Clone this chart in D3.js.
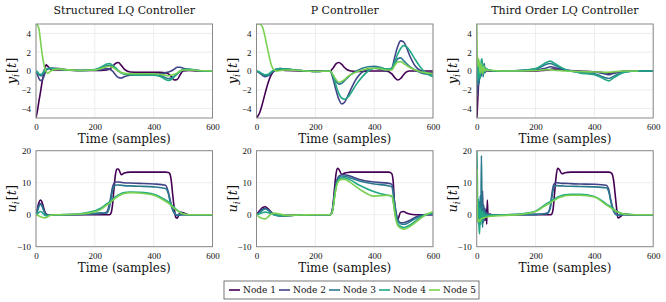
<!DOCTYPE html>
<html>
<head>
<meta charset="utf-8">
<script src="https://cdn.jsdelivr.net/npm/d3@7"></script>
<style>
  body { margin: 0; background: #fff; }
  text { fill: #111; }
</style>
</head>
<body>
<svg width="666" height="302"></svg>
<script>
var nodeNames = ["Node 1", "Node 2", "Node 3", "Node 4", "Node 5"];
var nodeColors = ["#440154", "#414487", "#2a788e", "#22a884", "#7ad151"];
var titles = ["Structured LQ Controller", "P Controller", "Third Order LQ Controller"];
var xTicks = [0, 200, 400, 600];
var yTicksOut = [-4, -2, 0, 2, 4];
var yTicksIn = [-10, 0, 10, 20];

// Structured LQ, output y
var tA = [0,5,10,15,20,25,30,35,40,50,60,80,100,150,200,220,240,250,260,270,280,290,300,320,350,400,420,440,450,460,470,480,490,500,520,550,600];
var yStructured = [
  [-5,-4.2,-3.2,-2.3,-1.3,-0.5,0.3,0.65,0.5,0.2,0.1,0.1,0.1,0.05,0.05,0.05,0.1,0.2,0.45,0.8,0.9,0.6,0.2,-0.1,-0.15,-0.15,-0.15,-0.2,-0.3,-0.6,-0.95,-0.9,-0.4,0,0.05,0,0],
  [0,-0.4,-0.8,-1.0,-1.0,-0.7,-0.3,0.1,0.2,0.3,0.3,0.25,0.15,0.05,0.1,0.15,0.25,0.2,0,-0.4,-0.7,-0.75,-0.6,-0.45,-0.4,-0.35,-0.3,-0.2,-0.1,0,0.2,0.4,0.4,0.3,0.15,0.05,0],
  [0,-0.2,-0.4,-0.5,-0.45,-0.3,0,0.2,0.25,0.3,0.25,0.2,0.1,0.05,0.1,0.3,0.55,0.6,0.5,0.3,0,-0.2,-0.3,-0.35,-0.35,-0.35,-0.45,-0.7,-0.8,-0.75,-0.55,-0.3,-0.05,0.1,0.15,0.05,0],
  [0,-0.1,-0.3,-0.35,-0.3,-0.1,0.1,0.2,0.25,0.3,0.25,0.2,0.1,0.05,0.15,0.4,0.75,0.8,0.6,0.35,0.05,-0.2,-0.35,-0.4,-0.45,-0.45,-0.55,-0.9,-1.0,-0.9,-0.6,-0.3,0,0.15,0.2,0.05,0],
  [5,4.9,4.5,3.3,2.0,1.0,0.3,-0.1,-0.25,0,0.15,0.2,0.15,0.05,0.1,0.25,0.45,0.5,0.4,0.2,0,-0.15,-0.25,-0.3,-0.3,-0.3,-0.35,-0.45,-0.5,-0.45,-0.35,-0.2,0,0.1,0.1,0.05,0]
];

// P controller, output y
var tB = [0,10,20,30,40,50,60,70,80,100,150,200,250,260,270,280,290,300,310,320,340,360,380,400,420,440,460,470,480,490,500,510,520,540,560,580,600];
var yP = [
  [-5,-4.5,-3.5,-2.3,-1.2,-0.4,0,0.1,0.1,0.05,0,0,0,0.3,0.75,0.9,0.7,0.35,0.1,0,-0.05,-0.05,0,0,0,0,-0.3,-0.7,-0.95,-0.8,-0.4,-0.1,0,0,0,0,0],
  [0,-0.2,-0.45,-0.6,-0.5,-0.2,0.1,0.2,0.25,0.2,0.05,-0.05,0,-0.8,-2.0,-3.0,-3.5,-3.3,-2.7,-2.0,-0.8,-0.1,0.2,0.3,0.2,0,0.3,1.5,2.6,3.2,3.1,2.5,1.7,0.5,0,-0.15,-0.2],
  [0,-0.15,-0.35,-0.5,-0.45,-0.2,0.1,0.2,0.25,0.2,0.05,-0.05,0,-0.5,-1.1,-1.4,-1.3,-1.0,-0.7,-0.4,0,0.3,0.45,0.5,0.4,0.2,0.2,0.8,1.3,1.4,1.1,0.8,0.5,0.1,-0.2,-0.35,-0.4],
  [0,-0.1,-0.3,-0.4,-0.35,-0.1,0.1,0.2,0.25,0.2,0.05,-0.05,0,-0.5,-1.5,-2.4,-2.9,-3.0,-2.8,-2.4,-1.4,-0.6,0,0.3,0.35,0.2,0.3,1.0,1.8,2.4,2.7,2.6,2.2,1.2,0.3,-0.3,-0.6],
  [5,5,4.7,3.5,2.0,0.7,0.1,0,0.05,0.1,0.05,-0.05,0,-0.4,-0.9,-1.2,-1.1,-0.9,-0.6,-0.4,-0.1,0.1,0.25,0.3,0.25,0.1,0.1,0.6,0.95,1.0,0.8,0.6,0.4,0.1,-0.1,-0.2,-0.3]
];

// Third order LQ, output y
var tC = [0,1,2,3,4,5,6,8,10,12,14,16,18,20,22,24,26,28,30,35,40,45,50,60,80,100,150,200,220,240,250,260,280,300,350,400,420,440,450,460,480,500,550,600];
var yThird = [
  [-5,-4.8,-4.2,-3.5,-2.8,-2.2,-1.6,-1.0,-0.6,-0.3,-0.1,0.1,0,-0.2,0.1,0.2,0,-0.1,0.1,0.05,0,0,0,0,0,0,0,0,0.05,0.1,0.15,0.2,0.2,0.1,0,-0.1,-0.15,-0.2,-0.25,-0.2,-0.1,-0.05,0,0],
  [0,-1.5,-2.5,-2.2,-1.8,-1.5,-1.2,-0.8,-0.5,-0.3,-0.6,-0.2,0.3,-0.3,0.2,-0.2,0.1,0.2,-0.1,0.1,0,0.05,0,0,0,0,0.05,0.1,0.2,0.35,0.45,0.4,0.25,0.1,-0.05,-0.1,-0.2,-0.35,-0.4,-0.3,-0.15,0,0,0],
  [0,-0.5,-1.0,-1.2,-1.5,-1.2,-0.5,-1.3,-0.5,0.3,-0.5,0.5,1.0,0.2,-0.6,0.4,0.8,-0.2,0.3,0.2,0.1,0.05,0.05,0,0,0,0.05,0.2,0.45,0.75,0.8,0.7,0.4,0.15,-0.15,-0.3,-0.5,-0.75,-0.8,-0.65,-0.35,-0.1,0,0],
  [0,0.8,1.3,0.5,-0.8,-1.0,0.5,0.8,-0.3,-0.8,0.3,1.2,1.3,0.4,-0.3,0.6,0.4,-0.1,0.3,0.2,0.1,0.1,0.05,0,0,0,0.05,0.25,0.6,0.95,1.05,0.9,0.5,0.2,-0.2,-0.4,-0.65,-0.95,-1.05,-0.85,-0.45,-0.15,0,0],
  [5,3,1.5,1.2,0.8,0.5,1.3,1.0,0.3,-0.2,0.2,0.8,0.2,-0.3,0.3,0.5,0.1,0,0.2,0.1,0.05,0.1,0.05,0.05,0,0,0,0.05,0.1,0.15,0.15,0.1,0.05,0,-0.05,-0.1,-0.1,-0.15,-0.15,-0.1,-0.05,0,0]
];

// Structured LQ, input u
var tD = [0,5,10,15,20,25,30,35,40,50,60,80,100,150,200,220,240,250,255,260,265,270,275,280,290,300,320,350,400,440,450,455,460,465,470,475,480,490,500,520,540,560,600];
var uStructured = [
  [0,2.0,3.8,4.6,4.0,2.5,1.0,0.2,0,0,0,0,0,0,0,0,0,0,0.5,3,8,12.5,14.3,14.3,12.5,13.0,13.3,13.3,13.3,13.3,13.2,12.8,10.5,6,2,-0.8,-1.1,0.8,0.6,0,0,0,0],
  [0,1.5,3.0,3.5,3.0,1.8,0.7,0.1,-0.1,0,0,0,0,0.05,0.2,0.3,0.8,3.5,6,8.5,9.8,10.2,10.2,10.2,10.1,10.0,9.9,9.8,9.6,9.2,7,5,3,1.5,0.5,0,-0.3,-0.1,0,0,0,0,0],
  [0,1.2,2.6,3.2,2.8,1.6,0.5,0,-0.2,0,0,0,0,0.1,0.4,0.6,0.5,2.5,5,7.5,8.8,9.2,9.3,9.3,9.2,9.1,9.0,8.9,8.7,8.2,6.5,4.5,2.8,1.5,0.6,0.1,-0.1,0,0,0,0,0,0],
  [0,0.3,0.7,1.0,0.8,0.3,-0.2,-0.4,-0.3,-0.1,0,0,0.05,0.3,1.2,2.0,3.4,4.0,4.4,4.8,5.2,5.6,5.9,6.2,6.6,6.9,7.1,7.0,6.4,4.6,4.0,3.6,3.2,2.7,2.2,1.8,1.4,0.7,0.3,0,0,0,0],
  [0,-0.2,-0.4,-0.6,-0.8,-0.9,-1.0,-0.9,-0.6,-0.2,0,0,0.05,0.2,0.9,1.6,3.0,3.6,4.0,4.4,4.8,5.2,5.5,5.8,6.3,6.6,6.9,6.8,6.1,4.2,3.6,3.2,2.8,2.4,2.0,1.6,1.3,0.7,0.3,0,0,0,0]
];

// P controller, input u
var tE = [0,10,20,30,40,50,60,80,100,150,200,250,255,260,265,270,275,280,290,300,310,320,350,400,450,460,465,470,475,480,490,500,510,520,540,560,580,600];
var uP = [
  [0,1.2,2.2,2.5,1.8,0.8,0.1,-0.3,-0.3,-0.1,0,0,0.5,3,8,12.5,14.5,14.2,12.6,13.0,13.2,13.3,13.3,13.3,13.3,12.8,10,2,-1.0,-1.5,0.8,1.0,0.5,0.2,0,0,0,0],
  [0,0.8,1.8,2.0,1.5,0.6,0,-0.3,-0.3,-0.1,0,0,0.5,2.5,6.5,9.5,11.2,12.0,12.5,12.5,12.3,12.0,11.0,10.2,9.8,9.5,7,3.5,0.5,-1.5,-2.5,-2.5,-2.2,-1.8,-0.8,-0.2,0,0],
  [0,0.6,1.4,1.8,1.4,0.6,0,-0.3,-0.3,-0.1,0,0,0.4,2.2,6,9,10.8,11.6,12.1,12.0,11.8,11.5,10.5,9.6,9.0,8.7,6.5,3,0,-1.8,-2.8,-3.0,-2.8,-2.3,-1.2,-0.3,0.1,0.2],
  [0,0.3,0.6,0.8,0.6,0.3,0,-0.3,-0.3,-0.1,0,0,0.3,2,5.5,8.5,10.2,11.0,11.5,11.5,11.2,10.8,9.2,7.2,6.0,5.8,4,1,-1.5,-2.8,-3.7,-4.0,-3.8,-3.3,-2.0,-0.8,0.1,0.5],
  [0,-0.8,-1.2,-1.3,-0.6,0.2,0.5,0.2,-0.2,-0.1,0,0,0.3,1.8,5,8,9.8,10.6,11.0,11.0,10.6,10.0,8.0,5.8,6.1,5.9,4,0.5,-2,-3.3,-4.2,-4.5,-4.3,-3.8,-2.5,-1.0,0.2,0.9]
];

// Third order LQ, input u
var tF = [0,1,2,4,6,8,10,12,14,16,18,20,22,24,26,28,30,32,34,36,38,40,45,50,60,80,100,150,200,220,240,250,255,260,265,270,275,280,290,300,320,350,400,440,450,455,460,465,470,475,480,490,500,520,540,560,600];
var uThird = [
  [0,0,0,0,0.2,0.5,0.8,0.5,-0.3,-0.8,-0.5,0.5,1.2,0.5,-0.8,-1.8,-1.0,1.5,-3.0,4.6,0.5,-0.5,0.2,0,0,0,0,0,0,0,0,0,0.2,2,7,12,14.5,14.2,12.8,13.1,13.3,13.3,13.3,13.3,13.3,13.2,12.8,11,7,2.5,-1.0,-0.5,0.2,0,0,0,0],
  [0,-1,-2,1,-1.5,2,-2,3,-1,4,-1,7.5,-2.5,3,-1.5,2,-0.5,0.8,-0.5,0.5,0,-0.3,0.2,0,0,0,0,0.05,0.1,0.2,0.5,2.5,6,8.8,9.8,10,10,9.9,9.8,9.8,9.7,9.6,9.5,9.2,7.5,5,3,1.5,0.5,0,-0.2,0,0,0,0,0,0],
  [0,3,-2,2,-3,4,-3,6,-2,18.5,2,-4,3,-2,1.5,-1,0.5,-0.3,0.2,0,0,0,0,0,0,0,0,0,0.1,0.2,0.4,2,5,7.8,8.9,9.1,9.1,9.0,9.0,8.9,8.9,8.8,8.7,8.4,6.8,4.5,2.5,1.2,0.4,0,-0.1,0,0,0,0,0,0],
  [0,20,12,-2,5,-4,-6,2,-3,1,-2,1,-1,0.5,-0.5,0,-0.3,-0.2,-0.2,-0.2,-0.2,-0.2,-0.2,-0.2,-0.2,-0.1,0,0.3,1.1,2.3,3.6,4.1,4.4,4.7,5.0,5.2,5.5,5.7,6.0,6.2,6.4,6.4,5.7,3.4,2.8,2.5,2.1,1.8,1.4,1.1,0.9,0.5,0.2,0.1,0,0,0],
  [0,14,-1,-2,-1.5,-2,-2.2,-1.8,-1.5,-1.3,-1.2,-1.1,-1.0,-1.0,-0.9,-0.9,-0.8,-0.8,-0.7,-0.7,-0.6,-0.6,-0.5,-0.5,-0.4,-0.3,-0.2,0.1,1.0,2.0,3.2,3.7,4.0,4.3,4.6,4.8,5.1,5.3,5.6,5.9,6.1,6.1,5.5,3.1,2.5,2.2,1.9,1.6,1.3,1.0,0.8,0.4,0.2,0.05,0,0,0]
];

var svg = d3.select("svg");
var colX = [36, 256.5, 476.7];
var panelW = 176.5;
var rows = [
  { top: 24, h: 94, domain: [-5, 5], ticks: yTicksOut, label: "y" },
  { top: 150.7, h: 96, domain: [-10, 20], ticks: yTicksIn, label: "u" }
];

var panels = [
  { col: 0, row: 0, t: tA, s: yStructured },
  { col: 1, row: 0, t: tB, s: yP },
  { col: 2, row: 0, t: tC, s: yThird },
  { col: 0, row: 1, t: tD, s: uStructured },
  { col: 1, row: 1, t: tE, s: uP },
  { col: 2, row: 1, t: tF, s: uThird }
];

var tickFont = "'Liberation Serif', serif";
var textFont = "'DejaVu Serif', serif";

panels.forEach(function(p, k) {
  var r = rows[p.row];
  var x0 = colX[p.col];
  var x = d3.scaleLinear().domain([0, 600]).range([x0, x0 + panelW]);
  var y = d3.scaleLinear().domain(r.domain).range([r.top + r.h, r.top]);
  var g = svg.append("g");

  // grid
  g.selectAll(".gx").data(xTicks).enter().append("line")
    .attr("x1", function(d) { return x(d); }).attr("x2", function(d) { return x(d); })
    .attr("y1", r.top).attr("y2", r.top + r.h)
    .attr("stroke", "#e8e8e8").attr("stroke-width", 0.8);
  g.selectAll(".gy").data(r.ticks).enter().append("line")
    .attr("x1", x0).attr("x2", x0 + panelW)
    .attr("y1", function(d) { return y(d); }).attr("y2", function(d) { return y(d); })
    .attr("stroke", "#e8e8e8").attr("stroke-width", 0.8);

  // lines
  var clipId = "clip" + k;
  svg.append("clipPath").attr("id", clipId).append("rect")
    .attr("x", x0).attr("y", r.top).attr("width", panelW).attr("height", r.h);
  var line = d3.line()
    .x(function(d) { return x(d[0]); })
    .y(function(d) { return y(d[1]); })
    .curve(d3.curveMonotoneX);
  p.s.forEach(function(vals, i) {
    g.append("path")
      .attr("clip-path", "url(#" + clipId + ")")
      .attr("d", line(p.t.map(function(tt, j) { return [tt, vals[j]]; })))
      .attr("fill", "none")
      .attr("stroke", nodeColors[i])
      .attr("stroke-width", 1.6)
      .attr("stroke-linejoin", "round");
  });

  // box
  g.append("rect").attr("x", x0).attr("y", r.top).attr("width", panelW).attr("height", r.h)
    .attr("fill", "none").attr("stroke", "#8a8a8a").attr("stroke-width", 1);

  // axes
  var xAxis = g.append("g").attr("transform", "translate(0," + (r.top + r.h) + ")")
    .call(d3.axisBottom(x).tickValues(xTicks).tickSize(0).tickPadding(6));
  var yAxis = g.append("g").attr("transform", "translate(" + x0 + ",0)")
    .call(d3.axisLeft(y).tickValues(r.ticks).tickSize(0).tickPadding(5));
  [xAxis, yAxis].forEach(function(a) {
    a.select(".domain").remove();
    a.selectAll("text").attr("font-family", tickFont).attr("font-size", 9).attr("fill", "#111");
  });

  // x label
  g.append("text").attr("x", x0 + panelW / 2).attr("y", r.top + r.h + 25)
    .attr("text-anchor", "middle").attr("font-family", textFont).attr("font-size", 12)
    .text("Time (samples)");

  // y label
  var yl = g.append("text")
    .attr("transform", "translate(" + (x0 - 20) + "," + (r.top + r.h / 2) + ") rotate(-90)")
    .attr("text-anchor", "middle").attr("font-family", textFont).attr("font-size", 13);
  yl.append("tspan").attr("font-style", "italic").text(r.label);
  yl.append("tspan").attr("font-style", "italic").attr("font-size", 9).attr("dy", 3).text("i");
  yl.append("tspan").attr("dy", -3).attr("dx", 1).text("[");
  yl.append("tspan").attr("font-style", "italic").text("t");
  yl.append("tspan").text("]");

  if (p.row === 0) {
    g.append("text").attr("x", x0 + panelW / 2).attr("y", 14)
      .attr("text-anchor", "middle").attr("font-family", textFont).attr("font-size", 11)
      .text(titles[p.col]);
  }
});

// legend
var legX = 224, legY = 281, legW = 255, legH = 18;
var leg = svg.append("g");
leg.append("rect").attr("x", legX).attr("y", legY).attr("width", legW).attr("height", legH)
  .attr("fill", "#fff").attr("stroke", "#555").attr("stroke-width", 0.8);
var entry = leg.selectAll(".e").data(nodeNames).enter().append("g")
  .attr("transform", function(d, i) { return "translate(" + (legX + 5 + i * 50) + "," + (legY + legH / 2) + ")"; });
entry.append("line").attr("x1", 0).attr("x2", 11).attr("y1", 0).attr("y2", 0)
  .attr("stroke", function(d, i) { return nodeColors[i]; }).attr("stroke-width", 1.6);
entry.append("text").attr("x", 14).attr("y", 3.2)
  .attr("font-family", textFont).attr("font-size", 9).text(function(d) { return d; });
</script>
</body>
</html>
